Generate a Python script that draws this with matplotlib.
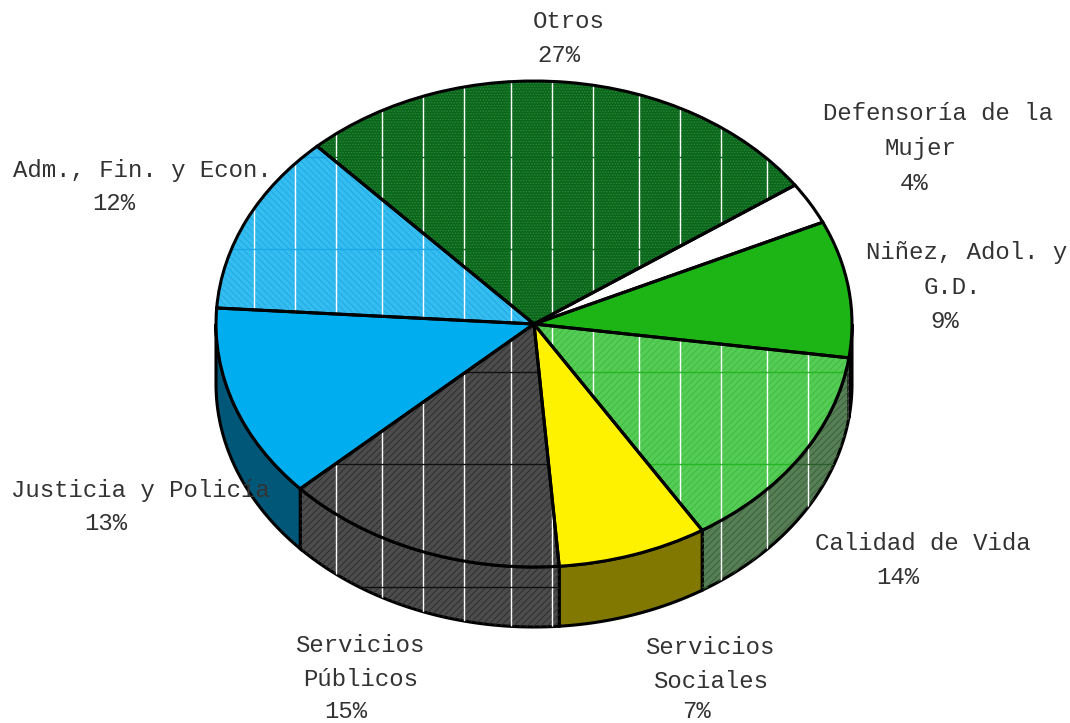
import numpy as np
import matplotlib
matplotlib.use('Agg')
import matplotlib.pyplot as plt
from matplotlib.patches import Polygon

categories = ['Otros', 'Defensoría', 'Niñez', 'Calidad de Vida', 'Servicios Sociales',
              'Servicios Públicos', 'Justicia y Policía', 'Adm., Fin. y Econ.']
# slice sizes as drawn, the printed percents are rounded differently
shares = [27.25, 2.8, 9.1, 13.9, 7.6, 14.4, 12.9, 12.0]
top_colors = ['#0a661a', '#ffffff', '#1db515', '#55cc55', '#fff200', '#4c4c4c', '#00aeef', '#36bdf0']
hatch_colors = ['#2f8a3e', None, None, '#3db83d', None, '#2a2a2a', None, '#1ba8e6']
hatches = ['.' * 6, None, None, '/' * 5, None, '/' * 5, None, '\\' * 5]
side_colors = ['#0a661a', '#ffffff', '#0b4a08', '#567f56', '#807800', '#4c4c4c', '#005778', '#36bdf0']
hline_colors = ['#0a661a', None, None, '#25b525', None, '#111111', None, '#1ba8e6']

label_lines = ['Otros', '27%', 'Defensoría de la', 'Mujer', '4%', 'Niñez, Adol. y', 'G.D.', '9%',
               'Calidad de Vida', '14%', 'Servicios', 'Sociales', '7%', 'Servicios', 'Públicos', '15%',
               'Justicia y Policía', '13%', 'Adm., Fin. y Econ.', '12%']
label_x = [569, 559, 938, 920, 914, 967, 952, 945, 923, 898, 710, 711, 697, 360, 361, 346, 140, 106, 142, 114]
label_y = [21, 55, 114, 148, 183, 252, 287, 321, 543, 577, 648, 682, 712, 645, 679, 711, 490, 523, 171, 203]

grid_x = [254, 295, 336, 382, 423, 464, 511, 552, 593, 639, 680, 721, 767, 808, 849]
grid_y = [157, 249, 372, 464, 587]

W, H = 1070, 723
CX, CY, RX, RY, DEPTH = 534, 324, 318, 243, 60

plt.rcParams['hatch.linewidth'] = 0.6

def ux(px):
    return (px - CX) / RX

def uy(py):
    return (CY - py) / RY

fig = plt.figure(figsize=(W / 100, H / 100), dpi=100)
ax = fig.add_axes([0, 0, 1, 1])

wedges, _ = ax.pie(shares, startangle=133, counterclock=False, colors=top_colors,
                   wedgeprops=dict(linewidth=0))
outlines, _ = ax.pie(shares, startangle=133, counterclock=False,
                     wedgeprops=dict(fill=False, edgecolor='black', linewidth=2.2))
ax.set_aspect('auto')
ax.set_xlim(ux(0), ux(W))
ax.set_ylim(uy(H), uy(0))
ax.axis('off')

def add_grid(patch, hcolor):
    vl = ax.vlines(ux(np.array(grid_x)), uy(H), uy(0), color='white', linewidth=1, zorder=patch.get_zorder() + 0.1)
    hl = ax.hlines(uy(np.array(grid_y)), ux(0), ux(W), color=hcolor, linewidth=1, zorder=patch.get_zorder() + 0.1)
    vl.set_clip_path(patch)
    hl.set_clip_path(patch)

dz = DEPTH / RY
for i, w in enumerate(wedges):
    w.set_zorder(3)
    outlines[i].set_zorder(5)
    if hatches[i]:
        w.set_hatch(hatches[i])
        w.set_edgecolor(hatch_colors[i])
        add_grid(w, hline_colors[i])
    # side wall only where the slice faces front, theta in -180..0
    t1, t2 = (w.theta1 + 180) % 360 - 180, (w.theta2 + 180) % 360 - 180
    if t2 < t1:
        t2 = t2 if t2 > 0 else t2 + 360
    a, b = max(t1, -180), min(t2, 0)
    if t1 > 0 and t2 > 180:
        a, b = -180, t2 - 360
    if a < b:
        th = np.radians(np.linspace(a, b, 60))
        upper = np.c_[np.cos(th), np.sin(th)]
        lower = upper - [0, dz]
        wall = Polygon(np.r_[upper, lower[::-1]], closed=True, facecolor=side_colors[i],
                       edgecolor='black', linewidth=2.2, zorder=1)
        ax.add_patch(wall)
        if hatches[i]:
            tex = Polygon(np.r_[upper, lower[::-1]], closed=True, facecolor='none', linewidth=0,
                          edgecolor='#3a5a3a' if i == 3 else '#2a2a2a', hatch='/' * 5, zorder=1.5)
            ax.add_patch(tex)
            add_grid(tex, '#2d5f2d' if i == 3 else '#111111')

for s, x, y in zip(label_lines, label_x, label_y):
    ax.text(ux(x), uy(y), s, family='Liberation Mono', fontsize=17.3, color='#333333',
            ha='center', va='center', zorder=6)

fig.savefig('out.png', dpi=100)
